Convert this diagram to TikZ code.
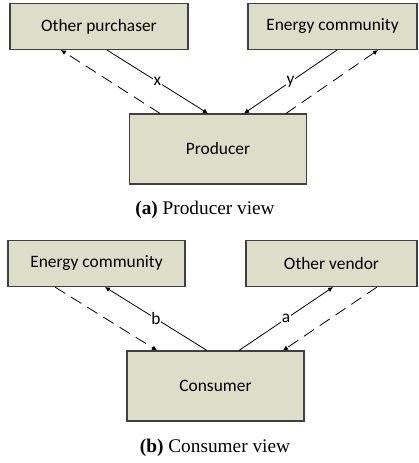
\documentclass[tikz,border=0pt]{standalone}
\usepackage{fontspec}
\setmainfont{Carlito}
\newfontfamily\capfont{Liberation Serif}
\usetikzlibrary{arrows.meta,positioning}
\definecolor{boxfill}{RGB}{221,222,202}
\definecolor{boxline}{RGB}{64,64,64}

\begin{document}
\begin{tikzpicture}[
  x=1pt, y=-1pt,
  font=\fontsize{17.4}{20}\selectfont,
  obox/.style = {draw=boxline, line width=1.1pt, fill=boxfill,
                 minimum height=46pt, inner sep=0pt},
  cbox/.style = {obox, minimum width=177pt, minimum height=70pt},
  arr/.style  = {-{Latex[length=5pt,width=5pt]}, line width=0.8pt},
  das/.style  = {arr, dash pattern=on 12pt off 7pt},
  lbl/.style  = {fill=white, inner sep=0.6pt},
  captxt/.style = {font=\capfont\fontsize{19.3}{22}\selectfont}
]
\useasboundingbox (0,0) rectangle (418,463);
%% -- (a) Producer view --
\node[obox, minimum width=178pt] (op)   at (99,26.5)    {Other purchaser};
\node[obox, minimum width=169pt] (ec1)  at (332.5,26.5) {Energy community};
\node[cbox]                      (prod) at (218,149)    {Producer};
\node[captxt]                    (capa) at (205,210)    {\textbf{(a)} Producer view};
\draw[arr] ([xshift=8pt]op.south)    -- node[lbl]{x} ([xshift=-10pt]prod.north);
\draw[arr] ([xshift=4.5pt]ec1.south) -- node[lbl]{y} ([xshift=26pt]prod.north);
\draw[das] ([xshift=-58pt]prod.north) -- ([xshift=-38pt]op.south);
\draw[das] ([xshift=68pt]prod.north)  -- ([xshift=45.5pt]ec1.south);
%% -- (b) Consumer view --
\node[obox, minimum width=177pt] (ec2)  at (96.5,263.5)  {Energy community};
\node[obox, minimum width=171pt] (ov)   at (331.5,263.5) {Other vendor};
\node[cbox]                      (cons) at (215.5,386)   {Consumer};
\node[captxt]                    (capb) at (215,448)     {\textbf{(b)} Consumer view};
\draw[arr] ([xshift=-8.5pt]cons.north) -- node[lbl]{b} ([xshift=8.5pt]ec2.south);
\draw[arr] ([xshift=23.5pt]cons.north) -- node[lbl]{a} ([xshift=1.5pt]ov.south);
\draw[das] ([xshift=-41.5pt]ec2.south) -- ([xshift=-58.5pt]cons.north);
\draw[das] ([xshift=45.5pt]ov.south)   -- ([xshift=67.5pt]cons.north);
\end{tikzpicture}
\end{document}
